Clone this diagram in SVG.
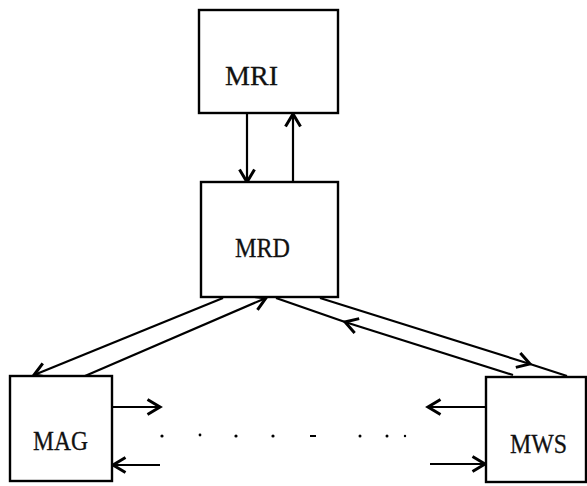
<svg xmlns="http://www.w3.org/2000/svg" width="587" height="486" viewBox="0 0 587 486">
<style>
.box{fill:#fff;stroke:#000;stroke-width:2.4}
.lbl{font-family:"Liberation Serif","DejaVu Serif",serif;font-size:28px;fill:#111;stroke:#111;stroke-width:0.3}
.ln{stroke:#000;stroke-width:2.2;fill:none}
.dot{fill:#000}
</style>
<defs>
<marker id="ah" markerUnits="userSpaceOnUse" markerWidth="20" markerHeight="20" viewBox="-12 -8 14 16" refX="0" refY="0" orient="auto">
<path d="M-10,-6 L0,0 L-10,6" fill="none" stroke="#000" stroke-width="2.4"/>
</marker>
</defs>
<rect width="587" height="486" fill="#fff"/>
<g id="connectors">
<line class="ln" x1="247" y1="113" x2="247" y2="182" marker-end="url(#ah)"/>
<line class="ln" x1="293" y1="182" x2="293" y2="114" marker-end="url(#ah)"/>
<line class="ln" x1="223" y1="298" x2="34" y2="375" marker-end="url(#ah)"/>
<line class="ln" x1="85" y1="376" x2="266" y2="298" marker-end="url(#ah)"/>
<line class="ln" x1="513" y1="375" x2="345" y2="322" marker-end="url(#ah)"/>
<line class="ln" x1="345" y1="322" x2="276" y2="298"/>
<line class="ln" x1="320" y1="298" x2="530" y2="364" marker-end="url(#ah)"/>
<line class="ln" x1="530" y1="364" x2="567" y2="376"/>
<line class="ln" x1="112" y1="407" x2="160" y2="407" marker-end="url(#ah)"/>
<line class="ln" x1="160" y1="465" x2="113" y2="465" marker-end="url(#ah)"/>
<line class="ln" x1="486" y1="407" x2="428" y2="407" marker-end="url(#ah)"/>
<line class="ln" x1="430" y1="464" x2="485" y2="464" marker-end="url(#ah)"/>
<g id="dots">
<circle class="dot" cx="162" cy="436" r="1.6"/>
<circle class="dot" cx="200" cy="435" r="1.4"/>
<circle class="dot" cx="236" cy="436" r="1.6"/>
<circle class="dot" cx="273" cy="436" r="1.6"/>
<rect class="dot" x="310" y="435" width="6" height="2"/>
<circle class="dot" cx="360" cy="436" r="1.5"/>
<circle class="dot" cx="387" cy="436" r="1.5"/>
<circle class="dot" cx="405" cy="436" r="1.2"/>
</g>
</g>
<g id="MRI">
<rect class="box" x="199" y="10" width="139" height="103"/>
<text class="lbl" x="225" y="85" textLength="53" lengthAdjust="spacingAndGlyphs">MRI</text>
</g>
<g id="MRD">
<rect class="box" x="201" y="182" width="137" height="115"/>
<text class="lbl" x="235" y="257" textLength="55" lengthAdjust="spacingAndGlyphs">MRD</text>
</g>
<g id="MAG">
<rect class="box" x="10" y="376" width="102" height="105"/>
<text class="lbl" x="33" y="450" textLength="55" lengthAdjust="spacingAndGlyphs">MAG</text>
</g>
<g id="MWS">
<rect class="box" x="486" y="377" width="100" height="105"/>
<text class="lbl" x="510" y="453" textLength="57" lengthAdjust="spacingAndGlyphs">MWS</text>
</g>
</svg>
